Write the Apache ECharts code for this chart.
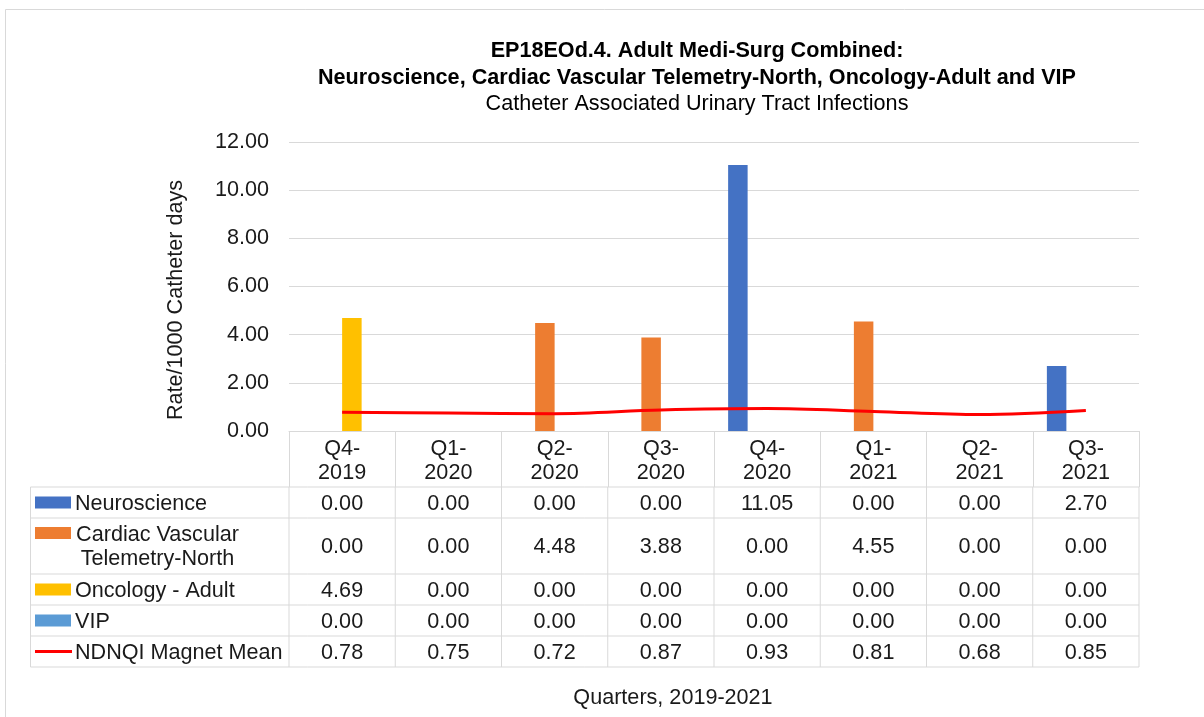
<!DOCTYPE html>
<html>
<head>
<meta charset="utf-8">
<script src="https://cdn.jsdelivr.net/npm/echarts@6/dist/echarts.min.js"></script>
<style>
  html, body { margin: 0; padding: 0; background: #fff; }
  #chart { width: 1204px; height: 717px; }
</style>
</head>
<body>
<div id="chart"></div>
<script>
// chart values
const categories = ['Q4-2019', 'Q1-2020', 'Q2-2020', 'Q3-2020', 'Q4-2020', 'Q1-2021', 'Q2-2021', 'Q3-2021']
const neuroscience = [0.00, 0.00, 0.00, 0.00, 11.05, 0.00, 0.00, 2.70]
const cardiacVascular = [0.00, 0.00, 4.48, 3.88, 0.00, 4.55, 0.00, 0.00]
const oncologyAdult = [4.69, 0.00, 0.00, 0.00, 0.00, 0.00, 0.00, 0.00]
const vip = [0.00, 0.00, 0.00, 0.00, 0.00, 0.00, 0.00, 0.00]
const magnetMean = [0.78, 0.75, 0.72, 0.87, 0.93, 0.81, 0.68, 0.85]
const yMin = 0
const yMax = 12
const yStep = 2

const FONT = '"Liberation Sans", Arial, sans-serif'
const FS = 21.6
const GRID_COLOR = '#d9d9d9'
const TEXT_COLOR = '#1a1a1a'

const rows = [
  { name: 'Neuroscience', data: neuroscience, color: '#4472c4', kind: 'bar' },
  { name: 'Cardiac Vascular Telemetry-North', data: cardiacVascular, color: '#ed7d31', kind: 'bar' },
  { name: 'Oncology - Adult', data: oncologyAdult, color: '#ffc000', kind: 'bar' },
  { name: 'VIP', data: vip, color: '#5b9bd5', kind: 'bar' },
  { name: 'NDNQI Magnet Mean', data: magnetMean, color: '#ff0000', kind: 'line' }
]

let myChart = echarts.init(document.getElementById('chart'))

let series = rows.map((r) => {
  if (r.kind === 'bar') {
    return {
      name: r.name,
      type: 'bar',
      barWidth: 19.5,
      barGap: '0%',
      itemStyle: { color: r.color },
      data: r.data
    }
  }
  return {
    name: r.name,
    type: 'line',
    smooth: 0.35,
    showSymbol: false,
    lineStyle: { color: r.color, width: 3 },
    itemStyle: { color: r.color },
    z: 5,
    data: r.data
  }
})

myChart.setOption({
  animation: false,
  backgroundColor: '#fff',
  title: {
    text: 'EP18EOd.4. Adult Medi-Surg Combined:\nNeuroscience, Cardiac Vascular Telemetry-North, Oncology-Adult and VIP',
    subtext: 'Catheter Associated Urinary Tract Infections',
    left: 697,
    top: 38,
    textAlign: 'center',
    padding: 0,
    itemGap: 0,
    textStyle: { fontFamily: FONT, fontSize: FS, fontWeight: 'bold', color: '#000', lineHeight: 27 },
    subtextStyle: { fontFamily: FONT, fontSize: FS, color: '#000', lineHeight: 24 }
  },
  grid: { left: 289, right: 65, top: 142, bottom: 286, containLabel: false },
  xAxis: {
    type: 'category',
    data: categories,
    axisLine: { lineStyle: { color: GRID_COLOR, width: 1 } },
    axisTick: { show: true, length: 56, lineStyle: { color: GRID_COLOR, width: 1 } },
    axisLabel: {
      margin: 6,
      fontFamily: FONT,
      fontSize: FS,
      lineHeight: 24,
      color: TEXT_COLOR,
      interval: 0,
      formatter: (v) => v.replace('-', '-\n')
    }
  },
  yAxis: {
    type: 'value',
    min: yMin,
    max: yMax,
    interval: yStep,
    axisLine: { show: false },
    axisTick: { show: false },
    splitLine: { lineStyle: { color: GRID_COLOR, width: 1 } },
    axisLabel: {
      margin: 20,
      padding: [4, 0, 0, 0],
      fontFamily: FONT,
      fontSize: FS,
      color: TEXT_COLOR,
      formatter: (v) => v.toFixed(2)
    }
  },
  series: series
})

// data table under the x axis, laid out from the axis pixel positions
function drawTable () {
  let centers = categories.map((c, i) => myChart.convertToPixel({ xAxisIndex: 0 }, i))
  let colW = centers[1] - centers[0]
  let plotLeft = centers[0] - colW / 2
  let plotRight = centers[centers.length - 1] + colW / 2
  let tableLeft = 30.5
  let top = myChart.convertToPixel({ yAxisIndex: 0 }, 0) + 56
  let els = []
  let lineEl = (x1, y1, x2, y2) => ({
    type: 'line',
    silent: true,
    z: 10,
    shape: { x1: x1, y1: y1, x2: x2, y2: y2 },
    style: { stroke: GRID_COLOR, lineWidth: 1 }
  })
  let textEl = (txt, x, y, align) => ({
    type: 'text',
    silent: true,
    z: 11,
    style: {
      text: txt,
      x: x,
      y: y,
      align: align,
      verticalAlign: 'middle',
      font: FS + 'px ' + FONT,
      fill: TEXT_COLOR,
      lineHeight: 24
    }
  })

  let y = top
  els.push(lineEl(tableLeft, y, plotRight, y))
  rows.forEach((r) => {
    let wrapped = r.name.length > 20
    let h = wrapped ? 56 : 31
    let mid = y + h / 2
    let swatchY = wrapped ? mid - 13 : mid
    if (r.kind === 'bar') {
      els.push({
        type: 'rect',
        silent: true,
        z: 11,
        shape: { x: 35, y: swatchY - 6, width: 36, height: 12 },
        style: { fill: r.color }
      })
    } else {
      els.push({
        type: 'line',
        silent: true,
        z: 11,
        shape: { x1: 35, y1: swatchY, x2: 72, y2: swatchY },
        style: { stroke: r.color, lineWidth: 3 }
      })
    }
    if (wrapped) {
      let parts = r.name.split(' ')
      let label = parts.slice(0, 2).join(' ') + '\n' + parts.slice(2).join(' ')
      els.push(textEl(label, 157.5, mid + 1.5, 'center'))
    } else {
      els.push(textEl(r.name, 75, mid + 1.5, 'left'))
    }
    r.data.forEach((v, i) => {
      els.push(textEl(v.toFixed(2), centers[i], mid + 1.5, 'center'))
    })
    y += h
    els.push(lineEl(tableLeft, y, plotRight, y))
  })
  els.push(lineEl(tableLeft, top, tableLeft, y))
  for (let k = 0; k <= categories.length; k++) {
    let x = plotLeft + k * colW
    els.push(lineEl(x, top, x, y))
  }

  // axis titles
  els.push({
    type: 'text',
    silent: true,
    style: {
      text: 'Rate/1000 Catheter days',
      x: 0,
      y: 0,
      align: 'center',
      verticalAlign: 'middle',
      font: FS + 'px ' + FONT,
      fill: TEXT_COLOR
    },
    x: 176,
    y: 300,
    rotation: Math.PI / 2
  })
  els.push(textEl('Quarters, 2019-2021', 673, 698, 'center'))

  // light frame round the chart area
  els.push(lineEl(5.5, 9.5, 1204, 9.5))
  els.push(lineEl(5.5, 9.5, 5.5, 717))

  myChart.setOption({ graphic: els })
}

drawTable()
</script>
</body>
</html>
